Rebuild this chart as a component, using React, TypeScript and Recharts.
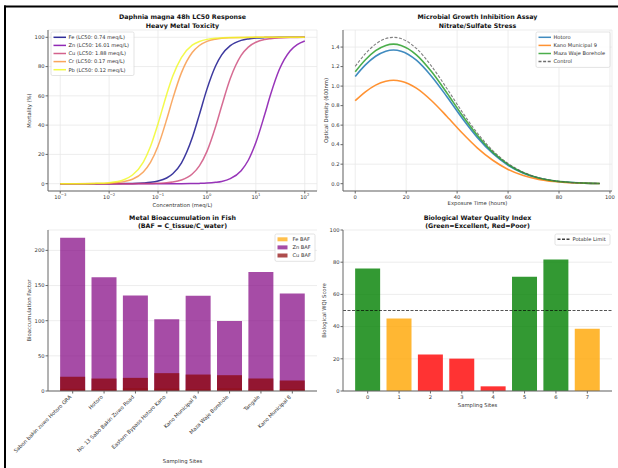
import React from "react";
import {
  LineChart,
  Line,
  BarChart,
  Bar,
  Cell,
  XAxis,
  YAxis,
  CartesianGrid,
  ReferenceLine,
} from "recharts";

const W = 618;
const H = 468;
const FONT = "'DejaVu Sans', 'Liberation Sans', sans-serif";
const SPINE = "#666";
const GRID = "#e8e8e8";
const TICK = { fontSize: 5.2, fill: "#333", fontFamily: FONT };

// --- Daphnia magna dose-response (mortality %, by concentration in meq/L)
const CONC = [0.001, 0.002, 0.005, 0.01, 0.02, 0.03, 0.05, 0.07, 0.1, 0.15, 0.2, 0.3, 0.5, 0.7, 1, 1.5, 2, 3, 5, 7, 10, 15, 20, 30, 50, 70, 100];
const FE_MORT = [0, 0, 0, 0, 0.1, 0.2, 0.5, 0.9, 1.8, 3.9, 6.8, 14.1, 31.3, 47.2, 64.6, 80.4, 88.0, 94.3, 97.9, 98.9, 99.5, 99.8, 99.9, 100, 100, 100, 100];
const ZN_MORT = [0, 0, 0, 0, 0, 0, 0, 0, 0, 0, 0, 0, 0.1, 0.2, 0.4, 0.9, 1.5, 3.4, 8.9, 16.0, 28.1, 46.7, 60.9, 77.8, 90.7, 95.0, 97.5];
const CU_MORT = [0, 0, 0, 0, 0, 0, 0.1, 0.1, 0.3, 0.6, 1.1, 2.5, 6.6, 12.2, 22.1, 38.9, 53.1, 71.8, 87.6, 93.3, 96.6, 98.5, 99.1, 99.6, 99.9, 99.9, 100];
const CR_MORT = [0, 0, 0.1, 0.3, 1.4, 3.0, 8.0, 14.5, 25.7, 43.8, 58.1, 75.7, 89.6, 94.4, 97.2, 98.7, 99.3, 99.7, 99.9, 99.9, 100, 100, 100, 100, 100, 100, 100];
const PB_MORT = [0, 0, 0.2, 0.7, 2.7, 5.9, 14.8, 25.4, 41.0, 61.0, 73.5, 86.2, 94.6, 97.1, 98.6, 99.4, 99.6, 99.8, 99.9, 100, 100, 100, 100, 100, 100, 100, 100];
const CONC_TICKS = [0.001, 0.01, 0.1, 1, 10, 100];
const MORT_TICKS = [0, 20, 40, 60, 80, 100];

// --- microbial growth (OD600 over exposure time in hours)
const HOURS = [0, 4, 8, 12, 15, 18, 24, 30, 36, 42, 48, 54, 60, 66, 72, 78, 84, 90, 96];
const OD_HOTORO = [1.099, 1.217, 1.306, 1.358, 1.37, 1.358, 1.266, 1.099, 0.891, 0.671, 0.472, 0.31, 0.189, 0.108, 0.057, 0.028, 0.013, 0.006, 0.002];
const OD_KANO9 = [0.85, 0.941, 1.01, 1.05, 1.06, 1.05, 0.979, 0.85, 0.689, 0.519, 0.365, 0.24, 0.146, 0.083, 0.044, 0.022, 0.01, 0.004, 0.002];
const OD_MAZA = [1.147, 1.27, 1.363, 1.417, 1.43, 1.417, 1.321, 1.147, 0.93, 0.701, 0.493, 0.323, 0.197, 0.112, 0.059, 0.029, 0.014, 0.006, 0.002];
const OD_CONTROL = [1.203, 1.332, 1.43, 1.487, 1.5, 1.487, 1.386, 1.203, 0.975, 0.735, 0.517, 0.339, 0.207, 0.118, 0.062, 0.031, 0.014, 0.006, 0.002];
const HOUR_TICKS = [0, 20, 40, 60, 80, 100];
const OD_TICKS = [0, 0.2, 0.4, 0.6, 0.8, 1.0, 1.2, 1.4];

// --- bioaccumulation factors in fish
const SITES = [
  "Sabon bakin zuwo Hotoro GRA",
  "Hotoro",
  "No. 13 Sabo Bakin Zuwo Road",
  "Eastern Bypass Hotoro Kano",
  "Kano Municipal 9",
  "Maza Waje Borehole",
  "Tangale",
  "Kano Municipal 8",
];
const FE_BAF = [3.2, 2.8, 4.1, 3.5, 2.6, 3.9, 2.2, 3.0];
const ZN_BAF = [217.8, 161.8, 136.0, 101.9, 135.5, 99.5, 169.4, 138.8];
const CU_BAF = [20.1, 17.7, 18.7, 25.4, 23.4, 22.5, 17.7, 14.8];
const BAF_TICKS = [0, 50, 100, 150, 200];

// --- biological water quality index
const WQI_SITES = [0, 1, 2, 3, 4, 5, 6, 7];
const WQI_SCORES = [76.1, 45.1, 22.6, 20.1, 2.9, 70.9, 81.6, 38.6];
const WQI_TICKS = [0, 20, 40, 60, 80, 100];
const POTABLE_LIMIT = 50;

// plot rectangles of the 2x2 grid (page pixels)
const PANELS = {
  dose: { x0: 48, x1: 317, y0: 30, y1: 191 },
  growth: { x0: 343, x1: 612, y0: 30, y1: 191 },
  baf: { x0: 48, x1: 317, y0: 230, y1: 391 },
  wqi: { x0: 343, x1: 612, y0: 230, y1: 391 },
};
const Y_AXIS_W = 30;
const X_AXIS_H = 14;

type Panel = { x0: number; x1: number; y0: number; y1: number };
const marginsFor = (p: Panel) => ({
  top: p.y0,
  right: W - p.x1,
  bottom: H - p.y1 - X_AXIS_H,
  left: p.x0 - Y_AXIS_W,
});

const METALS = [
  { key: "fe", name: "Fe (LC50: 0.74 meq/L)", color: "#0d0887", values: FE_MORT },
  { key: "zn", name: "Zn (LC50: 16.01 meq/L)", color: "#7e03a8", values: ZN_MORT },
  { key: "cu", name: "Cu (LC50: 1.88 meq/L)", color: "#cc4778", values: CU_MORT },
  { key: "cr", name: "Cr (LC50: 0.17 meq/L)", color: "#f89540", values: CR_MORT },
  { key: "pb", name: "Pb (LC50: 0.12 meq/L)", color: "#f0f921", values: PB_MORT },
];

const GROWTH = [
  { key: "hotoro", name: "Hotoro", color: "#1f77b4", values: OD_HOTORO, dash: undefined },
  { key: "kano9", name: "Kano Municipal 9", color: "#ff7f0e", values: OD_KANO9, dash: undefined },
  { key: "maza", name: "Maza Waje Borehole", color: "#2ca02c", values: OD_MAZA, dash: undefined },
  { key: "control", name: "Control", color: "#555555", values: OD_CONTROL, dash: "3 1.6" },
];

const BAF_SERIES = [
  { key: "fe", name: "Fe BAF", color: "#ffa500", values: FE_BAF },
  { key: "zn", name: "Zn BAF", color: "#800080", values: ZN_BAF },
  { key: "cu", name: "Cu BAF", color: "#8b0000", values: CU_BAF },
];

const wqiColor = (v: number) => (v >= POTABLE_LIMIT ? "#008000" : v >= 25 ? "#ffa500" : "#ff0000");

// 10^n tick labels for the log axis
function PowTick(props: any) {
  const { x, y, payload } = props;
  const exp = Math.round(Math.log10(payload.value));
  const sup = exp < 0 ? `\u2212${-exp}` : `${exp}`;
  return (
    <text x={x} y={y} textAnchor="middle" fontSize={5.2} fill="#333" fontFamily={FONT}>
      <tspan dy="0.71em">10</tspan>
      <tspan dy={-2.4} fontSize={3.7}>{sup}</tspan>
    </text>
  );
}

// site names rotated 45 degrees, right end at the tick
function SiteTick(props: any) {
  const { x, y, payload } = props;
  const ex = x - 0.9;
  const ey = y + 2.8;
  return (
    <text x={ex} y={ey} transform={`rotate(-45, ${ex}, ${ey})`} textAnchor="end" {...TICK}>
      {payload.value}
    </text>
  );
}

const layer: React.CSSProperties = { position: "absolute", left: 0, top: 0 };

function DoseChart() {
  const data = CONC.map((c, i) => {
    const row: Record<string, number> = { conc: c };
    METALS.forEach((m) => (row[m.key] = m.values[i]));
    return row;
  });
  return (
    <LineChart width={W} height={H} data={data} margin={marginsFor(PANELS.dose)}>
      <CartesianGrid stroke={GRID} strokeWidth={0.8} />
      <XAxis
        dataKey="conc"
        type="number"
        scale="log"
        domain={[Math.pow(10, -3.25), Math.pow(10, 2.25)]}
        allowDataOverflow
        ticks={CONC_TICKS}
        tick={<PowTick />}
        tickSize={2.5}
        tickMargin={1.5}
        height={X_AXIS_H}
        stroke={SPINE}
      />
      <YAxis
        type="number"
        domain={[-5, 105]}
        allowDataOverflow
        ticks={MORT_TICKS}
        tick={TICK}
        tickSize={2.5}
        tickMargin={1}
        width={Y_AXIS_W}
        stroke={SPINE}
      />
      <XAxis xAxisId="top" orientation="top" height={0} tick={false} tickLine={false} stroke={SPINE} />
      <YAxis yAxisId="right" orientation="right" width={0} tick={false} tickLine={false} stroke={SPINE} />
      {METALS.map((m) => (
        <Line
          key={m.key}
          type="monotone"
          dataKey={m.key}
          name={m.name}
          stroke={m.color}
          strokeOpacity={0.8}
          strokeWidth={1.5}
          dot={false}
          activeDot={false}
          isAnimationActive={false}
        />
      ))}
    </LineChart>
  );
}

function GrowthChart() {
  const data = HOURS.map((t, i) => {
    const row: Record<string, number> = { t };
    GROWTH.forEach((g) => (row[g.key] = g.values[i]));
    return row;
  });
  return (
    <LineChart width={W} height={H} data={data} margin={marginsFor(PANELS.growth)}>
      <CartesianGrid stroke={GRID} strokeWidth={0.8} />
      <XAxis
        dataKey="t"
        type="number"
        domain={[-4.8, 100.8]}
        allowDataOverflow
        ticks={HOUR_TICKS}
        tick={TICK}
        tickSize={2.5}
        tickMargin={1.5}
        height={X_AXIS_H}
        stroke={SPINE}
      />
      <YAxis
        type="number"
        domain={[-0.075, 1.575]}
        allowDataOverflow
        ticks={OD_TICKS}
        tickFormatter={(v: number) => v.toFixed(1)}
        tick={TICK}
        tickSize={2.5}
        tickMargin={1}
        width={Y_AXIS_W}
        stroke={SPINE}
      />
      <XAxis xAxisId="top" orientation="top" height={0} tick={false} tickLine={false} stroke={SPINE} />
      <YAxis yAxisId="right" orientation="right" width={0} tick={false} tickLine={false} stroke={SPINE} />
      {GROWTH.map((g) => (
        <Line
          key={g.key}
          type="monotone"
          dataKey={g.key}
          name={g.name}
          stroke={g.color}
          strokeOpacity={g.dash ? 0.75 : 0.85}
          strokeWidth={g.dash ? 1.1 : 1.6}
          strokeDasharray={g.dash}
          dot={false}
          activeDot={false}
          isAnimationActive={false}
        />
      ))}
    </LineChart>
  );
}

function BafChart() {
  const data = SITES.map((site, i) => ({ site, fe: FE_BAF[i], zn: ZN_BAF[i], cu: CU_BAF[i] }));
  return (
    <BarChart width={W} height={H} data={data} margin={marginsFor(PANELS.baf)} barCategoryGap="10%">
      <CartesianGrid xAxisId="zn" stroke={GRID} strokeWidth={0.8} vertical={false} />
      <XAxis
        xAxisId="zn"
        dataKey="site"
        padding={{ left: 9, right: 9 }}
        interval={0}
        tick={<SiteTick />}
        tickSize={2.5}
        tickMargin={1}
        height={X_AXIS_H}
        stroke={SPINE}
      />
      {/* one category axis per metal so the bars overlap instead of sitting side by side */}
      <XAxis xAxisId="fe" dataKey="site" padding={{ left: 9, right: 9 }} height={0} hide />
      <XAxis xAxisId="cu" dataKey="site" padding={{ left: 9, right: 9 }} height={0} hide />
      <YAxis
        type="number"
        domain={[0, 229]}
        allowDataOverflow
        ticks={BAF_TICKS}
        tick={TICK}
        tickSize={2.5}
        tickMargin={1}
        width={Y_AXIS_W}
        stroke={SPINE}
      />
      <XAxis xAxisId="top" orientation="top" height={0} tick={false} tickLine={false} stroke={SPINE} />
      <YAxis yAxisId="right" orientation="right" width={0} tick={false} tickLine={false} stroke={SPINE} />
      {BAF_SERIES.map((s) => (
        <Bar
          key={s.key}
          xAxisId={s.key}
          dataKey={s.key}
          name={s.name}
          fill={s.color}
          fillOpacity={0.7}
          isAnimationActive={false}
        />
      ))}
    </BarChart>
  );
}

function WqiChart() {
  const data = WQI_SITES.map((site, i) => ({ site, score: WQI_SCORES[i] }));
  return (
    <BarChart width={W} height={H} data={data} margin={marginsFor(PANELS.wqi)} barCategoryGap="10%">
      <CartesianGrid stroke={GRID} strokeWidth={0.8} vertical={false} />
      <XAxis
        dataKey="site"
        padding={{ left: 9, right: 9 }}
        interval={0}
        tick={TICK}
        tickSize={2.5}
        tickMargin={1.5}
        height={X_AXIS_H}
        stroke={SPINE}
      />
      <YAxis
        type="number"
        domain={[0, 100]}
        allowDataOverflow
        ticks={WQI_TICKS}
        tick={TICK}
        tickSize={2.5}
        tickMargin={1}
        width={Y_AXIS_W}
        stroke={SPINE}
      />
      <XAxis xAxisId="top" orientation="top" height={0} tick={false} tickLine={false} stroke={SPINE} />
      <YAxis yAxisId="right" orientation="right" width={0} tick={false} tickLine={false} stroke={SPINE} />
      <Bar dataKey="score" name="Biological WQI" isAnimationActive={false}>
        {data.map((d, i) => (
          <Cell key={i} fill={wqiColor(d.score)} fillOpacity={0.8} />
        ))}
      </Bar>
      <ReferenceLine
        y={POTABLE_LIMIT}
        stroke="#000"
        strokeOpacity={0.75}
        strokeWidth={0.9}
        strokeDasharray="3 1.5"
      />
    </BarChart>
  );
}

type LegendItem = { label: string; color: string; kind: "line" | "rect"; dash?: string; opacity?: number };

function LegendBox({ x, y, w, items }: { x: number; y: number; w: number; items: LegendItem[] }) {
  const rowH = 8.1;
  const h = items.length * rowH + 3;
  return (
    <g>
      <rect x={x} y={y} width={w} height={h} rx={1.5} fill="#fff" fillOpacity={0.85} stroke="#d0d0d0" strokeWidth={0.6} />
      {items.map((it, i) => {
        const cy = y + 5.3 + i * rowH;
        return (
          <g key={it.label}>
            {it.kind === "line" ? (
              <line
                x1={x + 2.5}
                x2={x + 15}
                y1={cy}
                y2={cy}
                stroke={it.color}
                strokeWidth={1.5}
                strokeOpacity={it.opacity ?? 0.85}
                strokeDasharray={it.dash}
              />
            ) : (
              <rect x={x + 2.5} y={cy - 2} width={10} height={4} fill={it.color} fillOpacity={it.opacity ?? 0.7} />
            )}
            <text x={x + 17.5} y={cy + 1.8} fontSize={5.1} fill="#333" fontFamily={FONT}>
              {it.label}
            </text>
          </g>
        );
      })}
    </g>
  );
}

function Title({ cx, y, lines }: { cx: number; y: number; lines: string[] }) {
  return (
    <text x={cx} y={y} textAnchor="middle" fontSize={6.3} fontWeight="bold" fill="#111" fontFamily={FONT}>
      {lines.map((l, i) => (
        <tspan key={i} x={cx} dy={i === 0 ? 0 : 8.2}>
          {l}
        </tspan>
      ))}
    </text>
  );
}

const axisLabel = { fontSize: 5.3, fill: "#333", fontFamily: FONT };

function Annotations() {
  return (
    <svg width={W} height={H} style={layer}>
      {/* page frame */}
      <rect x={4} y={5.5} width={W - 4} height={2} fill="#000" />
      <rect x={4} y={5.5} width={2} height={H - 5.5} fill="#000" />

      <Title cx={182.5} y={19.3} lines={["Daphnia magna 48h LC50 Response", "Heavy Metal Toxicity"]} />
      <Title cx={477.5} y={19.3} lines={["Microbial Growth Inhibition Assay", "Nitrate/Sulfate Stress"]} />
      <Title cx={182.5} y={219.6} lines={["Metal Bioaccumulation in Fish", "(BAF = C_tissue/C_water)"]} />
      <Title cx={477.5} y={219.6} lines={["Biological Water Quality Index", "(Green=Excellent, Red=Poor)"]} />

      <text x={182.5} y={207} textAnchor="middle" {...axisLabel}>Concentration (meq/L)</text>
      <text x={477.5} y={205} textAnchor="middle" {...axisLabel}>Exposure Time (hours)</text>
      <text x={182.5} y={463} textAnchor="middle" {...axisLabel}>Sampling Sites</text>
      <text x={477.5} y={406.5} textAnchor="middle" {...axisLabel}>Sampling Sites</text>

      <text transform="translate(31, 110.5) rotate(-90)" textAnchor="middle" {...axisLabel}>Mortality (%)</text>
      <text transform="translate(328, 110.5) rotate(-90)" textAnchor="middle" {...axisLabel}>Optical Density (600nm)</text>
      <text transform="translate(31, 310.5) rotate(-90)" textAnchor="middle" {...axisLabel}>Bioaccumulation Factor</text>
      <text transform="translate(326, 310.5) rotate(-90)" textAnchor="middle" {...axisLabel}>Biological WQI Score</text>

      <LegendBox x={51} y={32} w={83} items={METALS.map((m) => ({ label: m.name, color: m.color, kind: "line" as const }))} />
      <LegendBox
        x={536}
        y={32}
        w={74}
        items={GROWTH.map((g) => ({ label: g.name, color: g.color, kind: "line" as const, dash: g.dash }))}
      />
      <LegendBox x={275} y={234} w={40} items={BAF_SERIES.map((s) => ({ label: s.name, color: s.color, kind: "rect" as const }))} />
      <LegendBox x={555} y={234} w={55} items={[{ label: "Potable Limit", color: "#000", kind: "line", dash: "3 1.5", opacity: 0.75 }]} />
    </svg>
  );
}

export default function App() {
  return (
    <div style={{ position: "absolute", left: 0, top: 0, width: W, height: H, background: "#fff", overflow: "hidden" }}>
      <div style={layer}>
        <DoseChart />
      </div>
      <div style={layer}>
        <GrowthChart />
      </div>
      <div style={layer}>
        <BafChart />
      </div>
      <div style={layer}>
        <WqiChart />
      </div>
      <Annotations />
    </div>
  );
}
